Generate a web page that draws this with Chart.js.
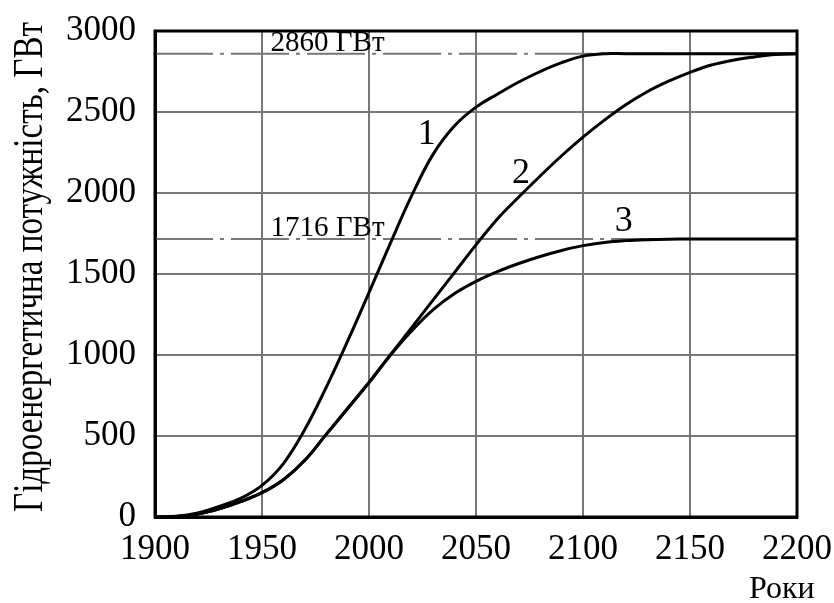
<!doctype html>
<html lang="uk">
    <head>
        <meta charset="utf-8">
        <title>Гідроенергетична потужність</title>
        <script src="https://cdn.jsdelivr.net/npm/chart.js@4.4.1/dist/chart.umd.min.js"></script>
        <style>
            html, body { margin: 0; padding: 0; background: #fff; }
            #hydroChart { display: block; }
        </style>
    </head>

    <body>
        <canvas id="hydroChart" width="834" height="603"></canvas>

        <script type="text/javascript">

            // years on the x axis, one point every 10 years
            var years = [1900, 1910, 1920, 1930, 1940, 1950, 1960, 1970, 1980, 1990,
                         2000, 2010, 2020, 2030, 2040, 2050, 2060, 2070, 2080, 2090,
                         2100, 2110, 2120, 2130, 2140, 2150, 2160, 2170, 2180, 2190, 2200];

            // capacity, GW
            var curve1 = [0, 4, 25, 65, 115, 195, 330, 540, 800, 1085,
                          1385, 1690, 1985, 2240, 2415, 2530, 2610, 2685, 2750, 2805,
                          2845, 2860, 2860, 2860, 2860, 2860, 2860, 2860, 2860, 2860, 2860];
            var curve2 = [0, 3, 18, 50, 95, 150, 230, 350, 510, 670,
                          830, 1000, 1170, 1340, 1510, 1680, 1840, 1975, 2105, 2230,
                          2345, 2450, 2545, 2625, 2690, 2745, 2790, 2820, 2840, 2855, 2860];
            var curve3 = [0, 3, 18, 50, 95, 150, 230, 350, 510, 670,
                          830, 1000, 1150, 1280, 1380, 1455, 1515, 1565, 1608, 1645,
                          1675, 1695, 1706, 1712, 1715, 1716, 1716, 1716, 1716, 1716, 1716];

            // limit levels, GW
            var limitLevels = [2860, 1716];
            var limitLabels = ["2860 ГВт", "1716 ГВт"];

            var curveNames = ["1", "2", "3"];

            var yearTicks = [1900, 1950, 2000, 2050, 2100, 2150, 2200];
            var powerTicks = [0, 500, 1000, 1500, 2000, 2500, 3000];

            var yTitle = "Гідроенергетична потужність, ГВт";
            var xTitle = "Роки";

            var serif = "'Liberation Serif', 'Times New Roman', serif";

            function toPoints(values) {
                return years.map(function (yr, i) { return { x: yr, y: values[i] }; });
            }

            function curveSet(values) {
                return {
                    data: toPoints(values),
                    borderColor: "#000",
                    borderWidth: 3,
                    pointRadius: 0,
                    fill: false,
                    tension: 0.4
                };
            }

            function limitSet(level) {
                return {
                    data: [{ x: yearTicks[0], y: level }, { x: yearTicks[yearTicks.length - 1], y: level }],
                    borderColor: "#777",
                    borderWidth: 2,
                    borderDash: [58, 7, 4, 7],
                    pointRadius: 0,
                    fill: false
                };
            }

            // text placement for labels inside the plot: [year, GW]
            var limitTextAt = [[1954, 2860], [1954, 1716]];
            var curveTextAt = [[2027, 2358], [2071, 2123], [2119, 1821]];

            var frameAndText = {
                id: "frameAndText",
                afterDatasetsDraw: function (chart) {
                    var ctx = chart.ctx;
                    var a = chart.chartArea;
                    var xs = chart.scales.x;
                    var ys = chart.scales.y;

                    ctx.save();
                    // outer frame
                    ctx.strokeStyle = "#000";
                    ctx.lineWidth = 3;
                    ctx.strokeRect(a.left, a.top, a.right - a.left, a.bottom - a.top);

                    ctx.fillStyle = "#000";

                    // level labels sit just above their dash-dot line
                    ctx.font = "29px " + serif;
                    ctx.textAlign = "left";
                    ctx.textBaseline = "alphabetic";
                    for (var i = 0; i < limitLabels.length; i++) {
                        ctx.fillText(limitLabels[i],
                            xs.getPixelForValue(limitTextAt[i][0]),
                            ys.getPixelForValue(limitTextAt[i][1]) - 3);
                    }

                    // curve numbers
                    ctx.font = "36px " + serif;
                    ctx.textAlign = "center";
                    ctx.textBaseline = "middle";
                    for (var j = 0; j < curveNames.length; j++) {
                        ctx.fillText(curveNames[j],
                            xs.getPixelForValue(curveTextAt[j][0]),
                            ys.getPixelForValue(curveTextAt[j][1]));
                    }

                    // x axis title, bottom right corner
                    ctx.font = "32px " + serif;
                    ctx.textAlign = "left";
                    ctx.textBaseline = "middle";
                    ctx.fillText(xTitle, a.right - 48, 590);

                    // y axis title, narrow and rotated
                    ctx.font = "42px " + serif;
                    ctx.textAlign = "left";
                    ctx.textBaseline = "alphabetic";
                    var w = ctx.measureText(yTitle).width;
                    ctx.translate(42, a.bottom - 5);
                    ctx.rotate(-Math.PI / 2);
                    ctx.scale(490 / w, 1);
                    ctx.fillText(yTitle, 0, 0);
                    ctx.restore();
                }
            };

            var ctx = document.getElementById("hydroChart").getContext("2d");
            var hydroChart = new Chart(ctx, {
                type: "line",
                data: {
                    datasets: [
                        curveSet(curve1),
                        curveSet(curve2),
                        curveSet(curve3),
                        limitSet(limitLevels[0]),
                        limitSet(limitLevels[1])
                    ]
                },
                options: {
                    responsive: false,
                    animation: false,
                    events: [],
                    layout: { padding: { top: 31, right: 37, left: 0, bottom: 0 } },
                    plugins: {
                        legend: { display: false },
                        tooltip: { enabled: false }
                    },
                    scales: {
                        x: {
                            type: "linear",
                            min: yearTicks[0],
                            max: yearTicks[yearTicks.length - 1],
                            afterBuildTicks: function (scale) {
                                scale.ticks = yearTicks.map(function (v) { return { value: v }; });
                            },
                            afterFit: function (scale) {
                                scale.height = 86;
                                scale.paddingLeft = 0;
                                scale.paddingRight = 0;
                            },
                            grid: { color: "#777", lineWidth: 2, drawTicks: false },
                            border: { color: "#000", width: 3 },
                            ticks: {
                                color: "#000",
                                font: { family: serif, size: 35 },
                                padding: 12,
                                maxRotation: 0,
                                autoSkip: false,
                                callback: function (v) { return String(v); }
                            }
                        },
                        y: {
                            min: powerTicks[0],
                            max: powerTicks[powerTicks.length - 1],
                            afterBuildTicks: function (scale) {
                                scale.ticks = powerTicks.map(function (v) { return { value: v }; });
                            },
                            afterFit: function (scale) {
                                scale.width = 155;
                                scale.paddingTop = 0;
                                scale.paddingBottom = 0;
                            },
                            grid: { color: "#777", lineWidth: 2, drawTicks: false },
                            border: { color: "#000", width: 3 },
                            ticks: {
                                color: "#000",
                                font: { family: serif, size: 35 },
                                padding: 19,
                                autoSkip: false,
                                callback: function (v) { return String(v); }
                            }
                        }
                    }
                },
                plugins: [frameAndText]
            });
        </script>
    </body>
</html>
